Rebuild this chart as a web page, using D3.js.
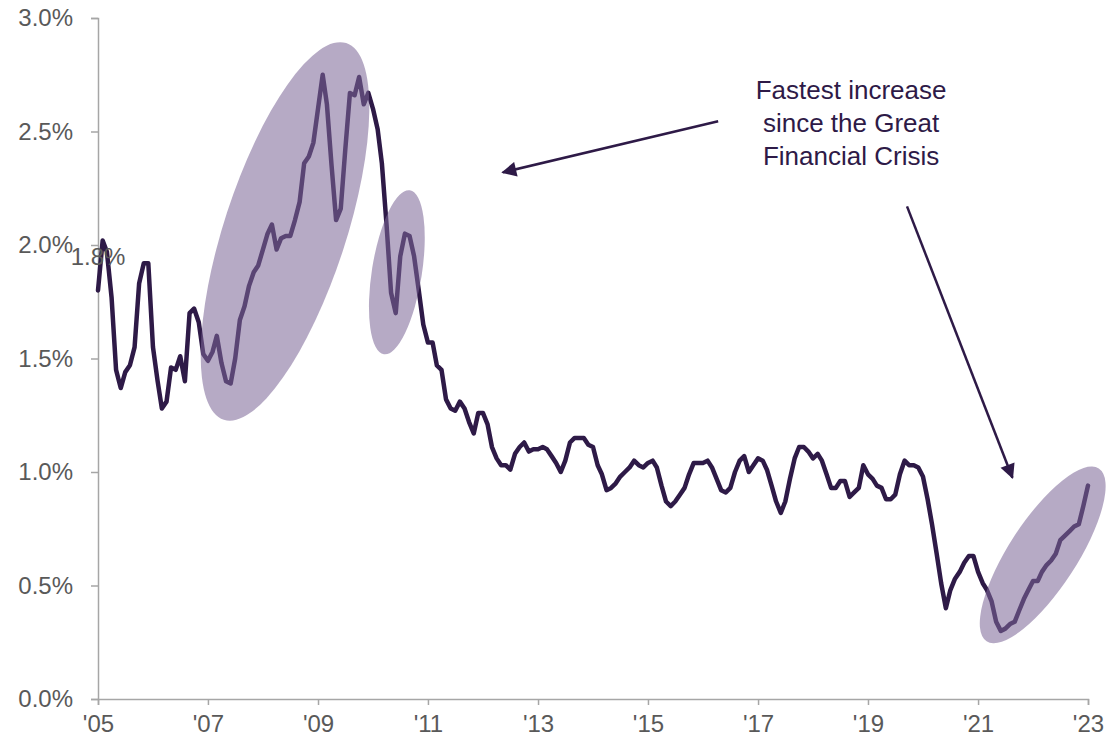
<!DOCTYPE html>
<html>
<head>
<meta charset="utf-8">
<script src="https://cdn.jsdelivr.net/npm/d3@7"></script>
<style>
  html, body { margin: 0; padding: 0; background: #ffffff; }
  svg { display: block; font-family: "Liberation Sans", Arial, sans-serif; }
</style>
</head>
<body>
<svg id="chart" width="1119" height="744"></svg>
<script>
// Monthly rate (%), January 2005 to January 2023
const startYear = 2005;
const rateValues = [
  // 2005
  1.80, 2.02, 1.97, 1.77, 1.45, 1.37, 1.44, 1.47, 1.55, 1.83, 1.92, 1.92,
  // 2006
  1.55, 1.40, 1.28, 1.31, 1.46, 1.45, 1.51, 1.40, 1.70, 1.72, 1.66, 1.52,
  // 2007
  1.49, 1.53, 1.60, 1.48, 1.40, 1.39, 1.50, 1.67, 1.73, 1.82, 1.88, 1.91,
  // 2008
  1.98, 2.05, 2.09, 1.98, 2.03, 2.04, 2.04, 2.11, 2.19, 2.36, 2.39, 2.45,
  // 2009
  2.60, 2.75, 2.62, 2.35, 2.11, 2.16, 2.42, 2.67, 2.66, 2.74, 2.62, 2.67,
  // 2010
  2.60, 2.51, 2.36, 2.09, 1.79, 1.70, 1.95, 2.05, 2.04, 1.95, 1.80, 1.65,
  // 2011
  1.57, 1.57, 1.47, 1.45, 1.32, 1.28, 1.27, 1.31, 1.28, 1.22, 1.17, 1.26,
  // 2012
  1.26, 1.21, 1.11, 1.06, 1.03, 1.03, 1.01, 1.08, 1.11, 1.13, 1.09, 1.10,
  // 2013
  1.10, 1.11, 1.10, 1.07, 1.04, 1.00, 1.05, 1.13, 1.15, 1.15, 1.15, 1.12,
  // 2014
  1.11, 1.03, 0.99, 0.92, 0.93, 0.95, 0.98, 1.00, 1.02, 1.05, 1.03, 1.02,
  // 2015
  1.04, 1.05, 1.02, 0.94, 0.87, 0.85, 0.87, 0.90, 0.93, 0.99, 1.04, 1.04,
  // 2016
  1.04, 1.05, 1.02, 0.97, 0.92, 0.91, 0.93, 1.00, 1.05, 1.07, 1.00, 1.03,
  // 2017
  1.06, 1.05, 1.01, 0.94, 0.87, 0.82, 0.87, 0.97, 1.06, 1.11, 1.11, 1.09,
  // 2018
  1.06, 1.08, 1.05, 0.99, 0.93, 0.93, 0.96, 0.96, 0.89, 0.91, 0.93, 1.03,
  // 2019
  0.99, 0.97, 0.94, 0.93, 0.88, 0.88, 0.90, 0.99, 1.05, 1.03, 1.03, 1.02,
  // 2020
  0.98, 0.88, 0.77, 0.64, 0.51, 0.40, 0.48, 0.53, 0.56, 0.60, 0.63, 0.63,
  // 2021
  0.56, 0.51, 0.48, 0.43, 0.34, 0.30, 0.31, 0.33, 0.34, 0.39, 0.44, 0.48,
  // 2022
  0.52, 0.52, 0.56, 0.59, 0.61, 0.64, 0.70, 0.72, 0.74, 0.76, 0.77, 0.85,
  // 2023
  0.94
];

const yTickValues = [0, 0.5, 1.0, 1.5, 2.0, 2.5, 3.0];
const xTickYears = [2005, 2007, 2009, 2011, 2013, 2015, 2017, 2019, 2021, 2023];
const xTickLabels = ["'05", "'07", "'09", "'11", "'13", "'15", "'17", "'19", "'21", "'23"];
const startLabel = "1.8%";
const calloutLines = ["Fastest increase", "since the Great", "Financial Crisis"];

// Highlight ellipses: centre as [months after Jan 2005, value], pixel radii and tilt
const highlights = [
  { month: 40.8, value: 2.06, rx: 61, ry: 198, tilt: 18 },
  { month: 65.2, value: 1.88, rx: 25, ry: 83, tilt: 9 },
  { month: 206.1, value: 0.635, rx: 34, ry: 103, tilt: 33 }
];
// Callout arrows: [months after Jan 2005, value] from -> to
const arrows = [
  { from: [135.3, 2.545], to: [88.3, 2.32] },
  { from: [176.5, 2.17], to: [199.5, 0.975] }
];
const calloutAnchor = [164.3, 2.645];

// Fractional month offset -> Date
const monthMs = 365.25 / 12 * 864e5;
const monthDate = m => new Date(new Date(startYear, 0, 1).getTime() + m * monthMs);
const series = rateValues.map((v, i) => ({ date: new Date(startYear, i, 1), value: v }));

const svg = d3.select("#chart");
const x = d3.scaleTime()
  .domain([new Date(2005, 0, 1), new Date(2023, 0, 1)])
  .range([98, 1088]);
const y = d3.scaleLinear().domain([0, 3]).range([699, 18]);

const axisColor = "#a6a6a6";
const textColor = "#595959";
const lineColor = "#2e1a47";
const fontSize = "24px";

// Axes
const yAxis = svg.append("g")
  .attr("transform", `translate(${x.range()[0]},0)`)
  .call(d3.axisLeft(y).tickValues(yTickValues).tickSize(7).tickPadding(18)
    .tickFormat(d => d.toFixed(1) + "%"));
const xAxis = svg.append("g")
  .attr("transform", `translate(0,${y(0)})`)
  .call(d3.axisBottom(x).tickValues(xTickYears.map(yr => new Date(yr, 0, 1)))
    .tickSize(6).tickPadding(10)
    .tickFormat((d, i) => xTickLabels[i]));
[yAxis, xAxis].forEach(g => {
  g.select(".domain").attr("stroke", axisColor).attr("stroke-width", 1.5);
  g.selectAll(".tick line").attr("stroke", axisColor).attr("stroke-width", 1.5);
  g.selectAll(".tick text").attr("fill", textColor)
    .style("font-size", fontSize).style("font-family", "'Liberation Sans', Arial, sans-serif");
});

// Series line
const line = d3.line().x(d => x(d.date)).y(d => y(d.value));
svg.append("path")
  .datum(series)
  .attr("fill", "none")
  .attr("stroke", lineColor)
  .attr("stroke-width", 4.5)
  .attr("stroke-linejoin", "round")
  .attr("stroke-linecap", "round")
  .attr("d", line);

// Value label at the first point
svg.append("text")
  .attr("x", x(series[0].date))
  .attr("y", y(series[0].value) - 25)
  .attr("text-anchor", "middle")
  .attr("fill", textColor)
  .style("font-size", fontSize)
  .text(startLabel);

// Translucent highlight ellipses over the line
highlights.forEach(h => {
  const cx = x(monthDate(h.month));
  const cy = y(h.value);
  svg.append("ellipse")
    .attr("transform", `translate(${cx},${cy}) rotate(${h.tilt})`)
    .attr("rx", h.rx)
    .attr("ry", h.ry)
    .attr("fill", "rgb(124,103,151)")
    .attr("fill-opacity", 0.56);
});

// Arrowhead marker
svg.append("defs").append("marker")
  .attr("id", "head")
  .attr("viewBox", "0 0 10 10")
  .attr("refX", 9).attr("refY", 5)
  .attr("markerWidth", 7).attr("markerHeight", 6)
  .attr("markerUnits", "strokeWidth")
  .attr("orient", "auto")
  .append("path")
  .attr("d", "M0,0 L10,5 L0,10 Z")
  .attr("fill", lineColor);

arrows.forEach(a => {
  svg.append("line")
    .attr("x1", x(monthDate(a.from[0]))).attr("y1", y(a.from[1]))
    .attr("x2", x(monthDate(a.to[0]))).attr("y2", y(a.to[1]))
    .attr("stroke", lineColor)
    .attr("stroke-width", 2.5)
    .attr("marker-end", "url(#head)");
});

// Callout text
const cx0 = x(monthDate(calloutAnchor[0]));
const callout = svg.append("text")
  .attr("x", cx0)
  .attr("y", y(calloutAnchor[1]))
  .attr("text-anchor", "middle")
  .attr("fill", lineColor)
  .style("font-size", "26px");
calloutLines.forEach((t, i) => {
  callout.append("tspan")
    .attr("x", cx0)
    .attr("dy", i === 0 ? 0 : 33)
    .text(t);
});
</script>
</body>
</html>
